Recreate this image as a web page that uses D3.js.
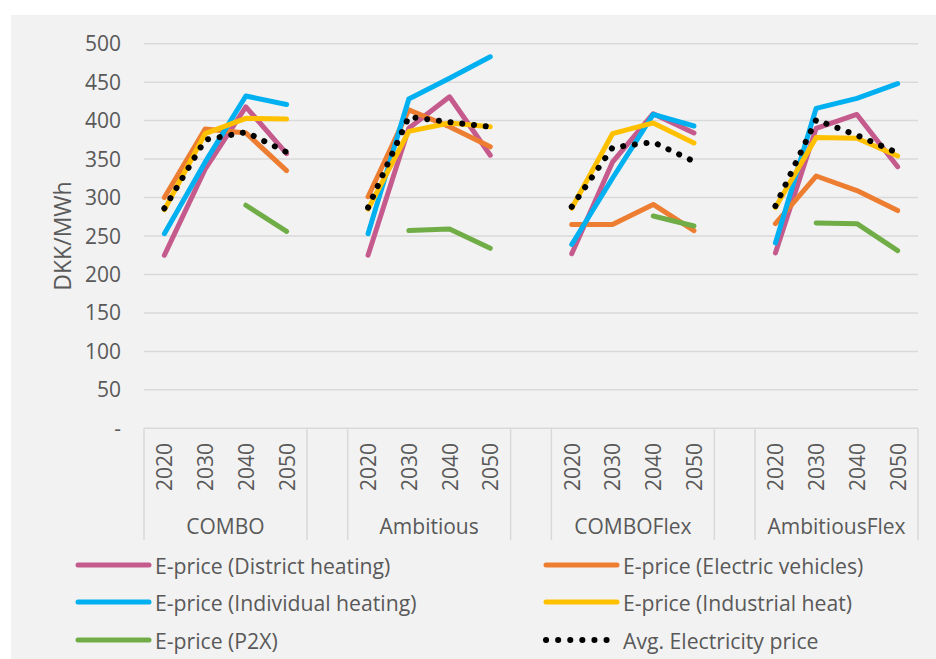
<!DOCTYPE html>
<html>
<head>
<meta charset="utf-8">
<script src="https://cdn.jsdelivr.net/npm/d3@7"></script>
<style>
  html, body { margin: 0; padding: 0; background: #fff; }
  svg { display: block; font-family: "Open Sans", sans-serif; }
</style>
</head>
<body>
<div id="chart"></div>
<script>
// scenarios and years on the x axis
const scenarios = ["COMBO", "Ambitious", "COMBOFlex", "AmbitiousFlex"];
const years = ["2020", "2030", "2040", "2050"];
const yTicks = [0, 50, 100, 150, 200, 250, 300, 350, 400, 450, 500];

// values per scenario, 4 years each (COMBO, Ambitious, COMBOFlex, AmbitiousFlex)
const districtHeating = [225, 337, 418, 357,  225, 390, 431, 355,  227, 346, 409, 384,  228, 390, 408, 340];
const electricVehicles = [300, 389, 384, 335,  301, 414, 392, 366,  265, 265, 291, 257,  266, 328, 309, 283];
const individualHeating = [253, 346, 432, 421,  253, 428, 455, 483,  239, 325, 408, 393,  241, 416, 429, 448];
const industrialHeat = [284, 383, 403, 402,  285, 386, 397, 392,  286, 383, 397, 371,  287, 378, 377, 354];
const p2x = [null, null, 290, 256,  null, 257, 259, 234,  null, null, 276, 263,  null, 267, 266, 231];
const avgPrice = [286, 375, 385, 359,  287, 405, 398, 392,  288, 365, 372, 347,  289, 401, 381, 358];

const seriesNames = [
  "E-price (District heating)", "E-price (Electric vehicles)",
  "E-price (Individual heating)", "E-price (Industrial heat)",
  "E-price (P2X)", "Avg. Electricity price"
];
const seriesValues = [districtHeating, electricVehicles, individualHeating, industrialHeat, p2x, avgPrice];
const seriesColors = ["#C55A8D", "#ED7D31", "#00B0F0", "#FFC000", "#70AD47", "#000000"];

const width = 936, height = 659;
const textColor = "#595959";
const gridColor = "#d9d9d9";

const svg = d3.select("#chart").append("svg")
  .attr("width", width)
  .attr("height", height);

// grey chart panel
svg.append("rect")
  .attr("x", 11).attr("y", 15)
  .attr("width", width - 11).attr("height", height - 15)
  .attr("fill", "#f2f2f2");

// 19 slots: 4 years per scenario with an empty slot between scenarios
const slots = [];
scenarios.forEach((s, i) => {
  years.forEach(yr => slots.push(s + "|" + yr));
  if (i < scenarios.length - 1) slots.push("gap" + i);
});

const x = d3.scaleBand().domain(slots).range([144, 918]).padding(0);
const y = d3.scaleLinear().domain([0, 500]).range([428.3, 43.7]);

// gridlines
svg.append("g")
  .selectAll("line")
  .data(yTicks.filter(d => d > 0))
  .join("line")
  .attr("x1", 144).attr("x2", 918)
  .attr("y1", d => y(d)).attr("y2", d => y(d))
  .attr("stroke", gridColor)
  .attr("stroke-width", 1.5);

// y tick labels
svg.append("g")
  .selectAll("text")
  .data(yTicks)
  .join("text")
  .attr("x", 121)
  .attr("y", d => y(d))
  .attr("dy", "0.36em")
  .attr("text-anchor", "end")
  .attr("fill", textColor)
  .style("font-size", "21px")
  .text(d => d === 0 ? "-" : d);

// y axis title
svg.append("text")
  .attr("transform", "translate(62,236) rotate(-90)")
  .attr("text-anchor", "middle")
  .attr("dominant-baseline", "central")
  .attr("fill", textColor)
  .style("font-size", "23px")
  .text("DKK/MWh");

// category axis
const axisY = y(0);
svg.append("line")
  .attr("x1", 144).attr("x2", 918)
  .attr("y1", axisY).attr("y2", axisY)
  .attr("stroke", gridColor)
  .attr("stroke-width", 1.5);

const bounds = [];
scenarios.forEach(s => {
  const first = x(s + "|" + years[0]);
  const last = x(s + "|" + years[years.length - 1]) + x.bandwidth();
  bounds.push(first, last);
});
svg.append("g")
  .selectAll("line")
  .data(bounds)
  .join("line")
  .attr("x1", d => d).attr("x2", d => d)
  .attr("y1", axisY).attr("y2", 540)
  .attr("stroke", gridColor)
  .attr("stroke-width", 1.5);

// year labels
svg.append("g")
  .selectAll("text")
  .data(slots.filter(d => !d.startsWith("gap")))
  .join("text")
  .attr("transform", d => `translate(${x(d) + x.bandwidth() / 2},443) rotate(-90)`)
  .attr("text-anchor", "end")
  .attr("dominant-baseline", "central")
  .attr("fill", textColor)
  .style("font-size", "21px")
  .text(d => d.split("|")[1]);

// scenario labels
svg.append("g")
  .selectAll("text")
  .data(scenarios)
  .join("text")
  .attr("x", s => (x(s + "|2020") + x(s + "|2050") + x.bandwidth()) / 2)
  .attr("y", 526)
  .attr("text-anchor", "middle")
  .attr("dominant-baseline", "central")
  .attr("fill", textColor)
  .style("font-size", "21px")
  .text(s => s);

// lines
function toSlots(vals) {
  return slots.map(slot => {
    if (slot.startsWith("gap")) return { slot, v: null };
    const [s, yr] = slot.split("|");
    const idx = scenarios.indexOf(s) * years.length + years.indexOf(yr);
    return { slot, v: vals[idx] };
  });
}

const line = d3.line()
  .defined(d => d.v != null)
  .x(d => x(d.slot) + x.bandwidth() / 2)
  .y(d => y(d.v));

seriesValues.forEach((vals, i) => {
  const isAvg = i === seriesValues.length - 1;
  svg.append("path")
    .datum(toSlots(vals))
    .attr("d", line)
    .attr("fill", "none")
    .attr("stroke", seriesColors[i])
    .attr("stroke-width", isAvg ? 6 : 5)
    .attr("stroke-linecap", "round")
    .attr("stroke-linejoin", "round")
    .attr("stroke-dasharray", isAvg ? "0.1 11.7" : null);
});

// legend
const legendPos = [
  { x: 78, y: 565 }, { x: 546, y: 565 },
  { x: 78, y: 602 }, { x: 546, y: 602 },
  { x: 78, y: 640 }, { x: 546, y: 640 }
];
const legend = svg.append("g")
  .selectAll("g")
  .data(seriesNames)
  .join("g")
  .attr("transform", (d, i) => `translate(${legendPos[i].x},${legendPos[i].y})`);

legend.append("line")
  .attr("x1", 0)
  .attr("x2", (d, i) => i === 5 ? 63 : 71)
  .attr("stroke", (d, i) => seriesColors[i])
  .attr("stroke-width", (d, i) => i === 5 ? 6 : 5)
  .attr("stroke-linecap", "round")
  .attr("stroke-dasharray", (d, i) => i === 5 ? "0.1 12" : null);

legend.append("text")
  .attr("x", 77)
  .attr("dominant-baseline", "central")
  .attr("fill", textColor)
  .style("font-size", "21.2px")
  .text(d => d);
</script>
</body>
</html>
